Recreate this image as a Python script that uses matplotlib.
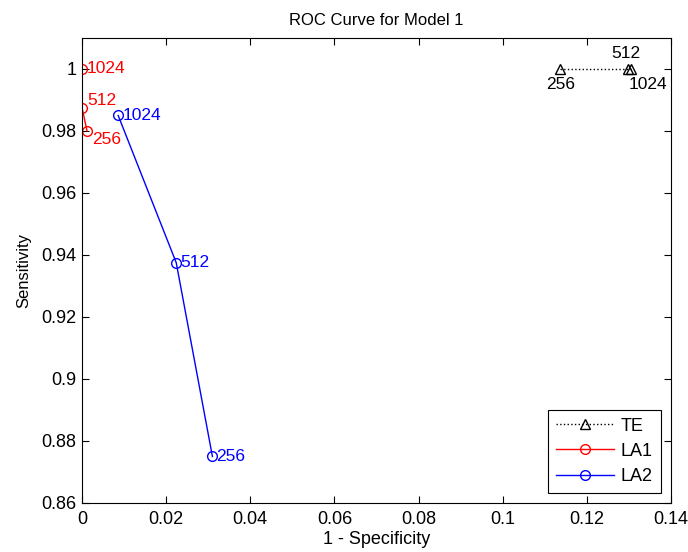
import matplotlib
matplotlib.use("Agg")
import matplotlib.pyplot as plt

plt.rcParams['font.family'] = ['Liberation Sans', 'DejaVu Sans']

te_x = [0.1136, 0.1298, 0.1305]
te_y = [1.0, 1.0, 1.0]
te_lbl = ['256', '512', '1024']

la1_x = [0.0012, 0.0000, 0.0000]
la1_y = [0.9800, 0.9875, 1.0000]
la1_lbl = ['256', '512', '1024']

la2_x = [0.0310, 0.0224, 0.0086]
la2_y = [0.8750, 0.9375, 0.9850]
la2_lbl = ['256', '512', '1024']

xticks = [0, 0.02, 0.04, 0.06, 0.08, 0.1, 0.12, 0.14]
xtick_lbl = ['0', '0.02', '0.04', '0.06', '0.08', '0.1', '0.12', '0.14']
yticks = [0.86, 0.88, 0.9, 0.92, 0.94, 0.96, 0.98, 1.0]
ytick_lbl = ['0.86', '0.88', '0.9', '0.92', '0.94', '0.96', '0.98', '1']

fig = plt.figure(figsize=(6.88, 5.52), dpi=100)
ax = fig.add_axes([0.1192, 0.0888, 0.856, 0.8424])

ax.plot(te_x, te_y, ':', color='black', marker='^', markerfacecolor='none',
        markersize=7, linewidth=1, label='TE')
ax.plot(la1_x, la1_y, '-', color='red', marker='o', markerfacecolor='none',
        markersize=7, linewidth=1, label='LA1')
ax.plot(la2_x, la2_y, '-', color='blue', marker='o', markerfacecolor='none',
        markersize=7, linewidth=1, label='LA2')

fs = 12.5
te_off = [(-10, -11), (-12, 11), (-2, -11)]
for x, y, t, o in zip(te_x, te_y, te_lbl, te_off):
    ax.annotate(t, (x, y), xytext=o, textcoords='offset points', fontsize=fs,
                color='black', ha='left', va='center', clip_on=False)
la1_off = [(4, -6), (4, 5), (3, 0)]
for x, y, t, o in zip(la1_x, la1_y, la1_lbl, la1_off):
    ax.annotate(t, (x, y), xytext=o, textcoords='offset points', fontsize=fs,
                color='red', ha='left', va='center', clip_on=False)
for x, y, t in zip(la2_x, la2_y, la2_lbl):
    ax.annotate(t, (x, y), xytext=(3, 0), textcoords='offset points', fontsize=fs,
                color='blue', ha='left', va='center', clip_on=False)

ax.set_xlim(0, 0.14)
ax.set_ylim(0.86, 1.01)
ax.set_xticks(xticks)
ax.set_xticklabels(xtick_lbl)
ax.set_yticks(yticks)
ax.set_yticklabels(ytick_lbl)
ax.tick_params(direction='in', top=True, right=True, labelsize=13, length=5)
ax.tick_params(axis='x', pad=6)
ax.tick_params(axis='y', pad=4)
ax.set_xlabel('1 - Specificity', fontsize=13, labelpad=2)
ax.set_ylabel('Sensitivity', fontsize=12, labelpad=7)
ax.set_title('ROC Curve for Model 1', fontsize=12, pad=9)

leg = ax.legend(loc='lower right', fontsize=13, fancybox=False, edgecolor='black',
                framealpha=1, borderaxespad=0.55, handlelength=3.2, labelspacing=0.45,
                handletextpad=0.4, borderpad=0.45)
leg.get_frame().set_linewidth(0.8)

fig.savefig('out.png', dpi=100)
